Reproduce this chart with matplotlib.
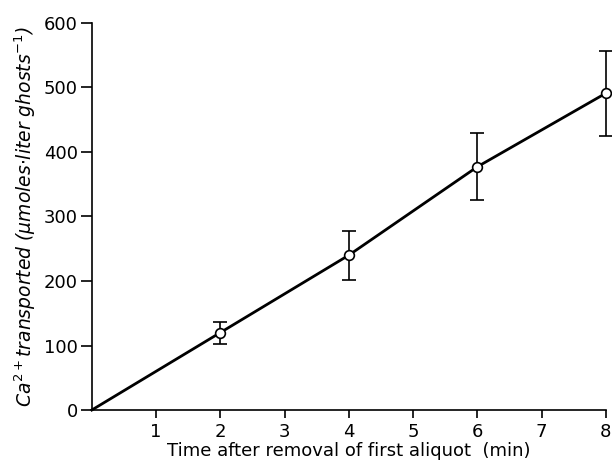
import numpy as np
import matplotlib.pyplot as plt

# data
time_min = [0, 2, 4, 6, 8]
ca_transported = [0, 120, 240, 377, 491]
ca_err = [0, 17, 38, 52, 66]

x_ticks = [1, 2, 3, 4, 5, 6, 7, 8]
y_ticks = [0, 100, 200, 300, 400, 500, 600]

fig = plt.figure(figsize=(6.12, 4.67), dpi=100)
ax = fig.add_axes([0.150, 0.122, 0.840, 0.829])

ax.plot(time_min, ca_transported, '-', color='black', linewidth=2, clip_on=False, zorder=2)
ax.errorbar(time_min[1:], ca_transported[1:], yerr=ca_err[1:], fmt='o', color='black',
            mfc='white', mec='black', ms=7, mew=1.2, ecolor='black', elinewidth=1.2,
            capsize=5, capthick=1.2, clip_on=False, zorder=3)

ax.set_xlim(0, 8)
ax.set_ylim(0, 600)
ax.set_xticks(x_ticks)
ax.set_yticks(y_ticks)
ax.tick_params(axis='y', direction='out', length=8, width=1.2, labelsize=13, pad=2)
ax.tick_params(axis='x', direction='out', length=6, width=1.2, labelsize=13, pad=3)

for s in ['top', 'right']:
    ax.spines[s].set_visible(False)
for s in ['left', 'bottom']:
    ax.spines[s].set_linewidth(1.2)

ax.set_xlabel('Time after removal of first aliquot  (min)', fontsize=13, labelpad=1)
ax.set_ylabel(r'$Ca^{2+}$transported ($\mu$moles$\cdot$liter ghosts$^{-1}$)',
              fontsize=13.5, style='italic', labelpad=4)

fig.savefig('out.png', dpi=100)
